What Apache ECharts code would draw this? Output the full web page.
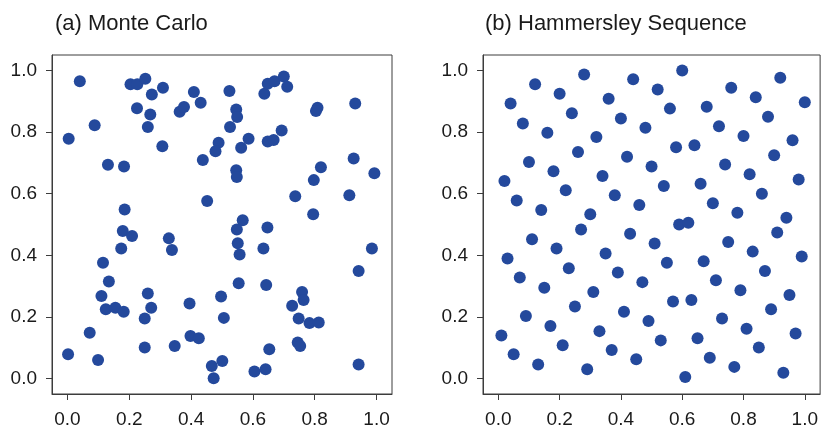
<!DOCTYPE html>
<html>
<head>
<meta charset="utf-8">
<script src="https://cdn.jsdelivr.net/npm/echarts@6/dist/echarts.min.js"></script>
<style>
html,body{margin:0;padding:0;background:#fff;}
#chart{width:821px;height:429px;}
</style>
</head>
<body>
<div id="chart"></div>
<script>
// Panel titles
const titleA = "(a) Monte Carlo";
const titleB = "(b) Hammersley Sequence";

// Tick values shown on both axes of both panels
const tickValues = [0.0, 0.2, 0.4, 0.6, 0.8, 1.0];

// (a) Monte Carlo points
const mcX = [0.040,0.088,0.004,0.131,0.183,0.185,0.179,0.209,0.328,0.204,0.226,0.252,0.273,0.309,0.225,0.268,0.260,0.307,0.363,0.377,
             0.409,0.431,0.438,0.452,0.524,0.546,0.549,0.526,0.489,0.479,0.586,0.562,0.546,0.548,0.637,0.648,0.670,0.700,0.711,0.648,
             0.667,0.693,0.809,0.804,0.931,0.926,0.820,0.797,0.993,0.737,0.912,0.795,0.567,0.548,0.647,0.551,0.557,0.634,0.985,0.942,
             0.554,0.643,0.497,0.506,0.395,0.759,0.764,0.727,0.748,0.783,0.813,0.745,0.753,0.653,0.398,0.425,0.467,0.501,0.473,0.605,
             0.641,0.942,0.338,0.174,0.115,0.134,0.110,0.124,0.155,0.182,0.260,0.271,0.250,0.072,0.002,0.099,0.250,0.347];
const mcY = [0.965,0.822,0.778,0.694,0.688,0.549,0.479,0.463,0.455,0.955,0.955,0.973,0.922,0.944,0.877,0.857,0.816,0.754,0.866,0.881,
             0.930,0.895,0.709,0.576,0.933,0.873,0.849,0.816,0.765,0.738,0.778,0.749,0.676,0.654,0.924,0.957,0.965,0.980,0.947,0.769,
             0.774,0.805,0.879,0.868,0.893,0.714,0.686,0.644,0.666,0.592,0.595,0.533,0.514,0.484,0.490,0.439,0.403,0.422,0.422,0.349,
             0.309,0.304,0.266,0.197,0.244,0.281,0.255,0.236,0.195,0.180,0.182,0.117,0.106,0.095,0.138,0.131,0.041,0.057,0.001,0.023,
             0.030,0.046,0.417,0.422,0.376,0.315,0.268,0.225,0.230,0.217,0.276,0.230,0.195,0.149,0.079,0.060,0.101,0.106];

// (b) Hammersley sequence points
const hsX = [0.01,0.02,0.03,0.04,0.05,0.06,0.07,0.08,0.09,0.10,0.11,0.12,0.13,0.14,0.15,0.16,0.17,0.18,0.19,0.20,
             0.21,0.22,0.23,0.24,0.25,0.26,0.27,0.28,0.29,0.30,0.31,0.32,0.33,0.34,0.35,0.36,0.37,0.38,0.39,0.40,
             0.41,0.42,0.43,0.44,0.45,0.46,0.47,0.48,0.49,0.50,0.51,0.52,0.53,0.54,0.55,0.56,0.57,0.58,0.59,0.60,
             0.61,0.62,0.63,0.64,0.65,0.66,0.67,0.68,0.69,0.70,0.71,0.72,0.73,0.74,0.75,0.76,0.77,0.78,0.79,0.80,
             0.81,0.82,0.83,0.84,0.85,0.86,0.87,0.88,0.89,0.90,0.91,0.92,0.93,0.94,0.95,0.96,0.97,0.98,0.99,1.00];
const hsY = [0.140,0.641,0.390,0.893,0.079,0.578,0.328,0.828,0.203,0.703,0.452,0.955,0.046,0.547,0.295,0.798,0.171,0.673,0.422,0.924,
             0.108,0.611,0.358,0.861,0.234,0.735,0.484,0.987,0.030,0.533,0.281,0.784,0.154,0.657,0.406,0.908,0.093,0.595,0.344,0.844,
             0.217,0.720,0.470,0.971,0.063,0.563,0.313,0.814,0.187,0.688,0.438,0.938,0.124,0.625,0.376,0.876,0.250,0.751,0.500,1.000,
             0.005,0.506,0.255,0.757,0.131,0.632,0.381,0.882,0.068,0.569,0.319,0.819,0.195,0.695,0.443,0.944,0.038,0.538,0.287,0.787,
             0.162,0.663,0.412,0.913,0.101,0.600,0.349,0.850,0.225,0.725,0.474,0.976,0.019,0.522,0.271,0.773,0.146,0.646,0.396,0.897];

const FONT = "'Liberation Sans', Arial, Helvetica, sans-serif";
const LINE = '#3c3c3c';
const DOT = '#24499c';

function zip(xs, ys){ return xs.map((x,i)=>[x, ys[i]]); }

function valAxis(gridIndex, isX){
  return {
    type: 'value', gridIndex: gridIndex, min: -0.05, max: 1.05,
    axisLine: {show: true, onZero: false, lineStyle: {color: LINE, width: 1}},
    axisTick: {show: true, length: 6, inside: false, customValues: tickValues, lineStyle: {color: LINE, width: 1}},
    axisLabel: {show: true, customValues: tickValues, margin: isX ? 16 : 15,
      color: '#1a1a1a', fontFamily: FONT, fontSize: 19,
      formatter: v => Number(v).toFixed(1)},
    splitLine: {show: false}
  };
}

const chart = echarts.init(document.getElementById('chart'), null, {renderer: 'canvas'});
chart.setOption({
  animation: false,
  backgroundColor: '#ffffff',
  title: [
    {text: titleA, left: 50, top: 8, textStyle: {fontFamily: FONT, fontSize: 22, fontWeight: 'normal', color: '#1a1a1a'}},
    {text: titleB, left: 480, top: 8, textStyle: {fontFamily: FONT, fontSize: 22, fontWeight: 'normal', color: '#1a1a1a'}}
  ],
  grid: [
    {left: 52, top: 55, width: 340, height: 340, show: true, borderColor: LINE, borderWidth: 1, backgroundColor: 'transparent'},
    {left: 483, top: 55, width: 341, height: 340, show: true, borderColor: LINE, borderWidth: 1, backgroundColor: 'transparent'}
  ],
  xAxis: [valAxis(0, true), valAxis(1, true)],
  yAxis: [valAxis(0, false), valAxis(1, false)],
  series: [
    {type: 'scatter', xAxisIndex: 0, yAxisIndex: 0, data: zip(mcX, mcY), symbol: 'circle', symbolSize: 12,
     itemStyle: {color: DOT, opacity: 1}, silent: true},
    {type: 'scatter', xAxisIndex: 1, yAxisIndex: 1, data: zip(hsX, hsY), symbol: 'circle', symbolSize: 12,
     itemStyle: {color: DOT, opacity: 1}, silent: true}
  ]
});
</script>
</body>
</html>
